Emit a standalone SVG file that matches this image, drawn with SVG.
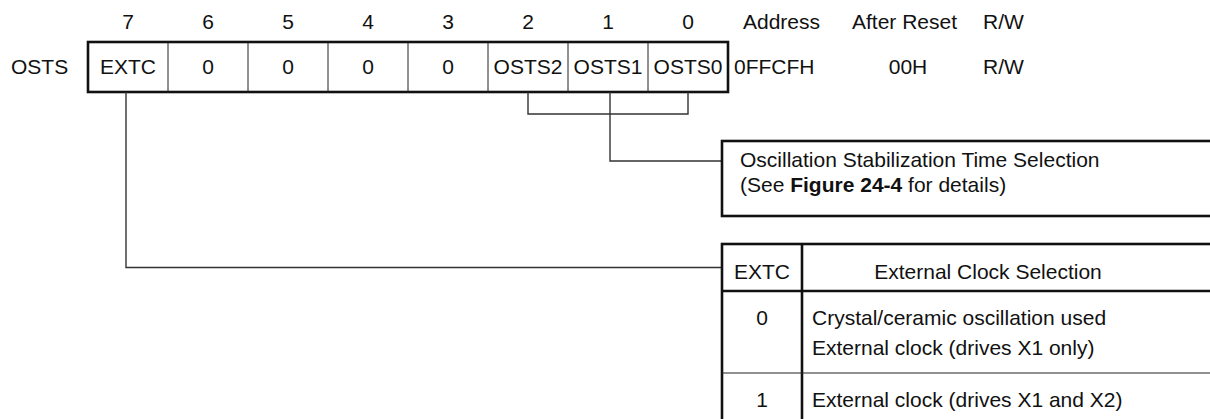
<svg xmlns="http://www.w3.org/2000/svg" width="1210" height="419" viewBox="0 0 1210 419">
<style>
text{font-family:"Liberation Sans",Arial,sans-serif;font-size:21px;fill:#111}
.c{text-anchor:middle}
.b{font-weight:bold}
.thick{fill:none;stroke:#111;stroke-width:2.6}
.thin{fill:none;stroke:#222;stroke-width:1}
.conn{fill:none;stroke:#333;stroke-width:1.4}
</style>
<rect width="1210" height="419" fill="#fff"/>
<g id="header">
<text class="c" x="128" y="29">7</text>
<text class="c" x="208" y="29">6</text>
<text class="c" x="288" y="29">5</text>
<text class="c" x="368" y="29">4</text>
<text class="c" x="448" y="29">3</text>
<text class="c" x="528" y="29">2</text>
<text class="c" x="608" y="29">1</text>
<text class="c" x="688" y="29">0</text>
<text x="743" y="29">Address</text>
<text x="852" y="29">After Reset</text>
<text x="983" y="29">R/W</text>
</g>
<g id="register">
<text x="11" y="74">OSTS</text>
<rect class="thick" x="88" y="42" width="640" height="50"/>
<path class="thin" d="M168 42V92M248 42V92M328 42V92M408 42V92M488 42V92M568 42V92M648 42V92"/>
<text class="c" x="128" y="74">EXTC</text>
<text class="c" x="208" y="74">0</text>
<text class="c" x="288" y="74">0</text>
<text class="c" x="368" y="74">0</text>
<text class="c" x="448" y="74">0</text>
<text class="c" x="528" y="74">OSTS2</text>
<text class="c" x="608" y="74">OSTS1</text>
<text class="c" x="688" y="74">OSTS0</text>
<text x="734" y="74">0FFCFH</text>
<text class="c" x="908" y="74">00H</text>
<text x="983" y="74">R/W</text>
</g>
<g id="connectors">
<path class="conn" d="M528 92V114H688V92"/>
<path class="conn" d="M610 92V161H722"/>
<path class="conn" d="M126 92V267.5H722"/>
</g>
<g id="osts-box">
<rect class="thick" x="722" y="141" width="492" height="75"/>
<text x="740" y="167">Oscillation Stabilization Time Selection</text>
<text x="740" y="192">(See <tspan class="b">Figure 24-4</tspan> for details)</text>
</g>
<g id="extc-table">
<rect class="thick" x="722" y="244" width="492" height="190"/>
<path class="thick" d="M802 244V420M722 291H1212"/>
<path class="thin" d="M722 373H1212"/>
<text class="c" x="762" y="279">EXTC</text>
<text class="c" x="988" y="279">External Clock Selection</text>
<text class="c" x="762" y="325">0</text>
<text x="812" y="325">Crystal/ceramic oscillation used</text>
<text x="812" y="355">External clock (drives X1 only)</text>
<text class="c" x="762" y="407">1</text>
<text x="812" y="407">External clock (drives X1 and X2)</text>
</g>
</svg>
